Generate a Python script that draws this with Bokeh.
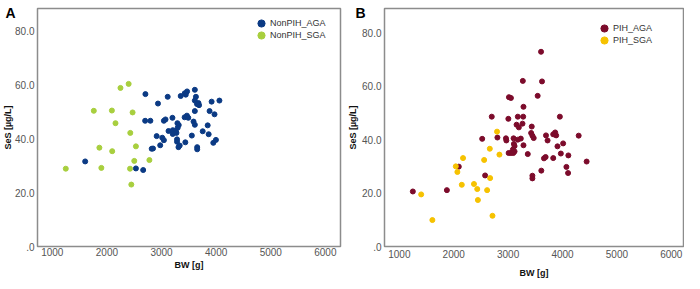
from bokeh.plotting import figure
from bokeh.layouts import row
from bokeh.models import Legend, LegendItem, LinearAxis, Range1d, FixedTicker
from bokeh.embed import file_html
from bokeh.resources import INLINE

# ---------------- data ----------------
# Panel A : non-PIH
a_aga_bw = [1602, 2531, 2664, 2705, 2935, 3113, 3351, 3425, 3468, 3444, 3610, 3630,
            3610, 3676, 3687, 3650, 3917, 4060, 3610, 3880, 3970, 2700, 2796, 3043,
            3073, 3200, 3291, 3315, 3423, 3465, 3490, 3586, 3610, 3845, 3128, 3206,
            3260, 3296, 3206, 3273, 2911, 3013, 3043, 3284, 3284, 3436, 3555, 3754,
            3863, 2820, 2844, 2976, 3333, 3310, 3653, 3653, 3948, 3996]
a_aga_ses = [31.6, 29.0, 28.4, 56.6, 53.1, 55.6, 55.9, 56.9, 57.6, 56.4, 58.2, 55.6,
             54.2, 53.3, 52.5, 52.9, 53.8, 54.2, 50.3, 50.3, 49.1, 46.7, 46.7, 46.7,
             47.2, 47.8, 45.8, 45.1, 48.0, 48.6, 47.8, 46.4, 45.2, 45.0, 42.9, 43.2,
             42.9, 44.1, 41.8, 42.2, 41.0, 40.4, 39.5, 39.8, 38.9, 38.7, 41.2, 42.8,
             41.7, 36.3, 36.4, 37.6, 37.5, 36.9, 36.9, 36.1, 38.5, 39.6]
a_sga_bw = [2248, 2398, 1760, 2091, 2470, 2157, 2428, 1862, 2097, 2531, 1247, 1898,
            2423, 2501, 2778, 2447]
a_sga_ses = [58.9, 60.4, 50.4, 50.5, 49.8, 45.8, 42.2, 36.7, 35.4, 37.2, 28.9, 29.2,
             28.9, 31.8, 32.1, 23.0]

# Panel B : PIH
b_aga_bw = [1248, 1874, 2093, 2577, 2523, 2699, 2803, 3605, 3270, 3623, 3015, 3051,
            3543, 3282, 3004, 3178, 3277, 3951, 3155, 3197, 3264, 3434, 3423, 3446,
            3470, 3696, 3725, 3829, 3865, 3883, 4297, 2960, 2967, 3100, 3178, 3233,
            3106, 3118, 3087, 3118, 3009, 3051, 3095, 3282, 3361, 3907, 4011, 3969,
            4107, 3659, 3689, 3829, 4071, 4443, 3610, 3446, 3446, 4102]
b_aga_ses = [20.6, 21.1, 29.9, 26.6, 40.3, 48.6, 40.8, 72.9, 62.0, 61.8, 55.9, 55.6,
             56.4, 52.3, 47.8, 48.6, 48.6, 48.6, 45.6, 44.6, 46.0, 44.9, 42.5, 41.5,
             40.6, 41.6, 39.7, 42.0, 42.7, 41.6, 41.5, 40.5, 39.7, 40.5, 40.0, 40.4,
             38.4, 37.6, 36.3, 35.6, 35.0, 35.0, 35.0, 37.9, 34.6, 37.5, 38.6, 34.8,
             34.1, 33.0, 33.5, 33.1, 29.8, 31.8, 28.4, 26.5, 25.5, 27.5]
b_sga_bw = [1401, 1607, 2038, 2067, 2171, 2148, 2372, 2432, 2444, 2559, 2663, 2669,
            2614, 2712, 2840, 2796]
b_sga_ses = [19.5, 9.9, 30.0, 27.9, 33.1, 23.1, 23.4, 21.5, 17.4, 32.4, 36.6, 25.6,
             21.1, 11.5, 34.4, 43.0]

x_ticks = [1000, 2000, 3000, 4000, 5000, 6000]
y_ticks = [0, 20, 40, 60, 80]
y_tick_labels = [".0", "20.0", "40.0", "60.0", "80.0"]

FONT = "Liberation Sans"
FIG_H = 281


def style_axis(ax):
    ax.axis_line_color = None
    ax.major_tick_line_color = None
    ax.minor_tick_line_color = None
    ax.major_tick_out = 0
    ax.major_tick_in = 0
    ax.minor_tick_out = 0
    ax.minor_tick_in = 0
    ax.major_label_text_font = FONT
    ax.major_label_text_font_size = "10px"
    ax.major_label_text_color = "#555555"
    ax.axis_label_text_font = FONT
    ax.axis_label_text_font_size = "9px"
    ax.axis_label_text_font_style = "bold"
    ax.axis_label_text_color = "#111111"
    ax.axis_label_text_line_height = 0.7


def make_panel(letter, series, x_range, y_range, borders, legend_pos,
               x_standoffs, letter_at, letter_standoffs):
    bl, br, bt, bb = borders
    p = figure(width=342, height=FIG_H, output_backend="svg", toolbar_location=None,
               x_range=Range1d(*x_range), y_range=Range1d(*y_range),
               min_border_left=bl, min_border_right=br, min_border_top=bt,
               min_border_bottom=bb)
    p.grid.visible = False
    p.outline_line_color = "#8c8c8c"
    p.outline_line_width = 1.5
    p.background_fill_color = "white"
    p.border_fill_color = "white"

    xa = p.xaxis[0]
    ya = p.yaxis[0]
    style_axis(xa)
    style_axis(ya)
    xa.ticker = FixedTicker(ticks=x_ticks)
    ya.ticker = FixedTicker(ticks=y_ticks)
    ya.major_label_overrides = dict(zip(y_ticks, y_tick_labels))
    xa.axis_label = "BW [g]"
    xa.major_label_standoff = x_standoffs[0]
    xa.axis_label_standoff = x_standoffs[1]
    ya.major_label_standoff = 3

    # outer left axis: carries the panel letter (as its only tick label)
    # and the y-axis title
    la = LinearAxis()
    style_axis(la)
    la.ticker = FixedTicker(ticks=[letter_at])
    la.major_label_overrides = {letter_at: letter}
    la.major_label_text_font_size = "14px"
    la.major_label_text_font_style = "bold"
    la.major_label_text_color = "black"
    la.major_label_standoff = letter_standoffs[0]
    la.axis_label = "SeS [µg/L]"
    la.axis_label_standoff = letter_standoffs[1]
    p.add_layout(la, "left")

    lx, ly = legend_pos
    for i, (name, xs, ys, col) in enumerate(series):
        r = p.scatter(xs, ys, size=5, fill_color=col, line_color=col)
        leg = Legend(items=[LegendItem(label=name, renderers=[r])],
                     location=(lx, ly - 12 * i), background_fill_alpha=0,
                     border_line_color=None, label_text_font=FONT,
                     label_text_font_size="9px", label_text_color="#333333",
                     glyph_width=18, glyph_height=18, label_standoff=-3,
                     padding=0, margin=0, label_height=12)
        p.add_layout(leg)
    return p


pA = make_panel("A",
                [("NonPIH_AGA", a_aga_bw, a_aga_ses, "#0b3a84"),
                 ("NonPIH_SGA", a_sga_bw, a_sga_ses, "#a8cf3e")],
                (729, 6277), (0, 88.4), (33, 2, 8, 30), (215, 214), (1, 1),
                86.7, (-3, -11))
pB = make_panel("B",
                [("PIH_AGA", b_aga_bw, b_aga_ses, "#7c0b2b"),
                 ("PIH_SGA", b_sga_bw, b_sga_ses, "#f6c200")],
                (727, 6224), (0, 89.1), (42, 1, 8, 35), (211, 209), (3, 7),
                87.4, (-6, -6))

layout = row(pA, pB)
open("out.html", "w").write(file_html(layout, INLINE))
